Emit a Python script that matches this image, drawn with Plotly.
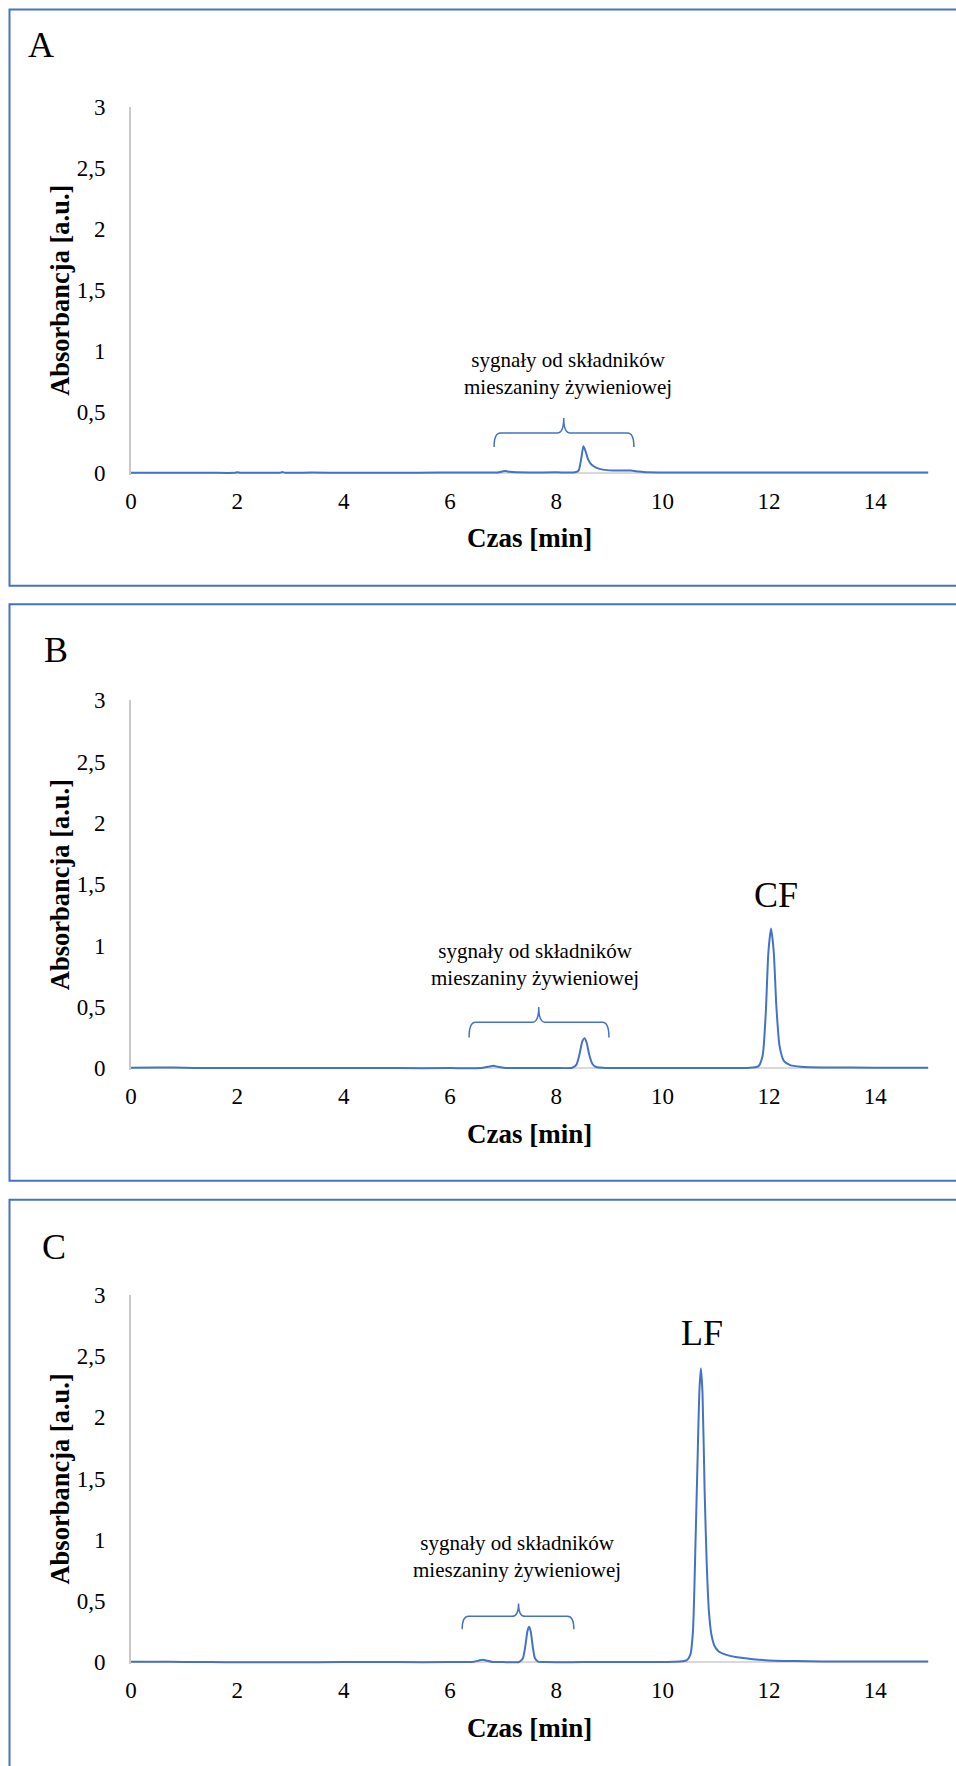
import plotly.graph_objects as go

W, H = 956, 1766
# small calibration of the page placement (screen px = off + scale * figure px)
OFF_X, SCALE_X = 5.0, 0.994
OFF_Y, SCALE_Y = 12.4, 0.986

# ---------------- data ----------------
time_A = [0, 0.5, 1.0, 1.5, 1.95, 2.0, 2.05, 2.1, 2.5, 2.8, 2.85, 2.9, 3.4, 4, 5, 5.8, 6.5,
          6.9, 7.0, 7.05, 7.12, 7.25, 7.5, 8.0, 8.35, 8.42, 8.47, 8.51, 8.55, 8.6, 8.66, 8.75,
          8.85, 9.0, 9.2, 9.4, 9.55, 9.7, 10, 11, 12, 13, 14, 15]
abs_A = [0.002, 0.002, 0.002, 0.002, 0.002, 0.006, 0.003, 0.002, 0.002, 0.003, 0.008, 0.003,
         0.004, 0.002, 0.003, 0.004, 0.004, 0.005, 0.015, 0.017, 0.01, 0.006, 0.005, 0.006,
         0.006, 0.02, 0.12, 0.22, 0.18, 0.11, 0.07, 0.045, 0.03, 0.022, 0.02, 0.02, 0.012,
         0.006, 0.005, 0.004, 0.004, 0.004, 0.005, 0.005]

time_B = [0, 0.5, 0.8, 1.2, 2, 3, 4, 5, 6, 6.6, 6.75, 6.82, 6.9, 7.05, 7.5, 8.0, 8.3, 8.38,
          8.44, 8.49, 8.53, 8.57, 8.62, 8.68, 8.75, 8.9, 9.5, 10, 11, 11.6, 11.8, 11.88,
          11.94, 11.99, 12.04, 12.09, 12.14, 12.2, 12.28, 12.4, 12.6, 13, 14, 15]
abs_B = [0.004, 0.006, 0.006, 0.003, 0.001, 0.002, 0.001, 0.001, 0.001, 0.003, 0.015, 0.02,
         0.012, 0.003, 0.002, 0.002, 0.004, 0.03, 0.12, 0.22, 0.244, 0.21, 0.11, 0.035, 0.01,
         0.003, 0.002, 0.002, 0.002, 0.003, 0.015, 0.1, 0.45, 0.95, 1.14, 0.95, 0.5, 0.18,
         0.06, 0.025, 0.012, 0.006, 0.005, 0.005]

time_C = [0, 0.5, 1, 1.5, 2, 3, 4, 5, 6, 6.45, 6.55, 6.62, 6.7, 6.8, 7.0, 7.3, 7.37, 7.42,
          7.46, 7.49, 7.52, 7.56, 7.6, 7.66, 7.8, 8.5, 9.5, 10.2, 10.45, 10.52, 10.57, 10.62,
          10.66, 10.69, 10.72, 10.75, 10.79, 10.83, 10.87, 10.92, 10.98, 11.05, 11.2, 11.4,
          11.7, 12, 12.5, 13, 14, 15]
abs_C = [0.004, 0.004, 0.002, 0.001, 0.0, 0.0, 0.001, 0.001, 0.001, 0.004, 0.015, 0.02, 0.012,
         0.002, 0.001, 0.002, 0.03, 0.14, 0.26, 0.29, 0.25, 0.12, 0.03, 0.005, 0.001, 0.001,
         0.001, 0.003, 0.015, 0.06, 0.25, 1.0, 1.7, 2.2, 2.40, 2.2, 1.4, 0.8, 0.42, 0.22,
         0.13, 0.09, 0.06, 0.04, 0.025, 0.015, 0.01, 0.007, 0.005, 0.005]

x_tickvals = [0, 2, 4, 6, 8, 10, 12, 14]
y_tickvals = [0, 0.5, 1, 1.5, 2, 2.5, 3]
y_ticktext = ["0", "0,5", "1", "1,5", "2", "2,5", "3"]

panel_labels = ["A", "B", "C"]
peak_names = [None, "CF", "LF"]
signal_text = "sygnały od składników<br>mieszaniny żywieniowej"
x_title = "Czas [min]"
y_title = "Absorbancja [a.u.]"

series = [(time_A, abs_A), (time_B, abs_B), (time_C, abs_C)]

# ---------------- layout geometry (target screen pixels / data units) ----------------
X0_PX, X15_PX = 130, 927.7
Y_MIN = -0.015
panels = [
    dict(top=107, zero=473, box=(10, 585.5), lab=(40, 45),
         brace=(6.83, 9.46, 8.14, 0.328, 0.213, 0.45), txt=(8.22, 0.816),
         peak=None, xt_y=538),
    dict(top=700, zero=1067.6, box=(604, 1180), lab=(55, 650),
         brace=(6.36, 8.99, 7.67, 0.375, 0.25, 0.50), txt=(7.60, 0.843),
         peak=(12.13, 1.41), xt_y=1133),
    dict(top=1294, zero=1661, box=(1199, 1820), lab=(53, 1246),
         brace=(6.23, 8.33, 7.29, 0.375, 0.27, 0.48), txt=(7.26, 0.86),
         peak=(10.74, 2.69), xt_y=1727),
]

BLUE = "#4472C4"
FONT = "Liberation Serif"
GRAY = "#C9C9C9"

fig = go.Figure()
shapes = []
annotations = []


def px_x(px):
    return ((px - OFF_X) / SCALE_X) / W


def px_y(px):
    return 1 - ((px - OFF_Y) / SCALE_Y) / H


for i, (p, (t, a)) in enumerate(zip(panels, series)):
    n = "" if i == 0 else str(i + 1)
    xa, ya = "x" + n, "y" + n
    fig.add_trace(go.Scatter(x=t, y=a, mode="lines", xaxis=xa, yaxis=ya,
                             line=dict(color=BLUE, width=2, shape="spline", smoothing=0.6),
                             showlegend=False, hoverinfo="skip"))
    unit = (p["zero"] - p["top"]) / 3.0
    bottom_px = p["zero"] - Y_MIN * unit
    fig.layout["xaxis" + n] = dict(
        domain=[px_x(X0_PX), px_x(X15_PX)], range=[0, 15], anchor=ya,
        tickvals=x_tickvals, ticks="", showgrid=False, zeroline=False,
        showline=False, tickfont=dict(family=FONT, size=23, color="#000"),
        ticklabelstandoff=10, fixedrange=True)
    fig.layout["yaxis" + n] = dict(
        domain=[px_y(bottom_px), px_y(p["top"])], range=[Y_MIN, 3], anchor=xa,
        tickvals=y_tickvals, ticktext=y_ticktext, ticks="", showgrid=False,
        zeroline=True, zerolinecolor="#D9D9D9", zerolinewidth=1.5,
        showline=True, linecolor=GRAY, linewidth=1.5,
        tickfont=dict(family=FONT, size=23, color="#000"),
        ticklabelstandoff=19, fixedrange=True)

    # panel frame
    shapes.append(dict(type="rect", xref="paper", yref="paper",
                       x0=px_x(8.5), x1=1.05, y0=px_y(p["box"][1]), y1=px_y(p["box"][0]),
                       line=dict(color=BLUE, width=2), fillcolor="rgba(0,0,0,0)"))
    # curly brace
    xl, xr, xt, yh, ye, yt = p["brace"]
    r = 0.12
    path = (f"M {xl},{ye} Q {xl},{yh} {xl + r},{yh} L {xt - r},{yh} "
            f"Q {xt},{yh} {xt},{yt} Q {xt},{yh} {xt + r},{yh} "
            f"L {xr - r},{yh} Q {xr},{yh} {xr},{ye}")
    shapes.append(dict(type="path", xref=xa, yref=ya, path=path,
                       line=dict(color=BLUE, width=1.5)))

    annotations.append(dict(text=signal_text, x=p["txt"][0], y=p["txt"][1], xref=xa, yref=ya,
                            showarrow=False, font=dict(family=FONT, size=21, color="#000"),
                            xanchor="center", yanchor="middle"))
    annotations.append(dict(text=panel_labels[i], x=px_x(p["lab"][0]), y=px_y(p["lab"][1]),
                            xref="paper", yref="paper", showarrow=False,
                            font=dict(family=FONT, size=36, color="#000"),
                            xanchor="center", yanchor="middle"))
    if peak_names[i]:
        annotations.append(dict(text=peak_names[i], x=p["peak"][0], y=p["peak"][1],
                                xref=xa, yref=ya, showarrow=False,
                                font=dict(family=FONT, size=36, color="#000"),
                                xanchor="center", yanchor="middle"))
    annotations.append(dict(text="<b>" + x_title + "</b>", x=px_x((X0_PX + X15_PX) / 2),
                            y=px_y(p["xt_y"]), xref="paper", yref="paper", showarrow=False,
                            font=dict(family=FONT, size=27, color="#000"),
                            xanchor="center", yanchor="middle"))
    annotations.append(dict(text="<b>" + y_title + "</b>", x=px_x(59),
                            y=px_y((p["top"] + p["zero"]) / 2), xref="paper", yref="paper",
                            showarrow=False, textangle=-90,
                            font=dict(family=FONT, size=26.5, color="#000"),
                            xanchor="center", yanchor="middle"))

fig.update_layout(width=W, height=H, margin=dict(l=0, r=0, t=0, b=0),
                  paper_bgcolor="white", plot_bgcolor="white",
                  shapes=shapes, annotations=annotations)

fig.write_html("out.html")
